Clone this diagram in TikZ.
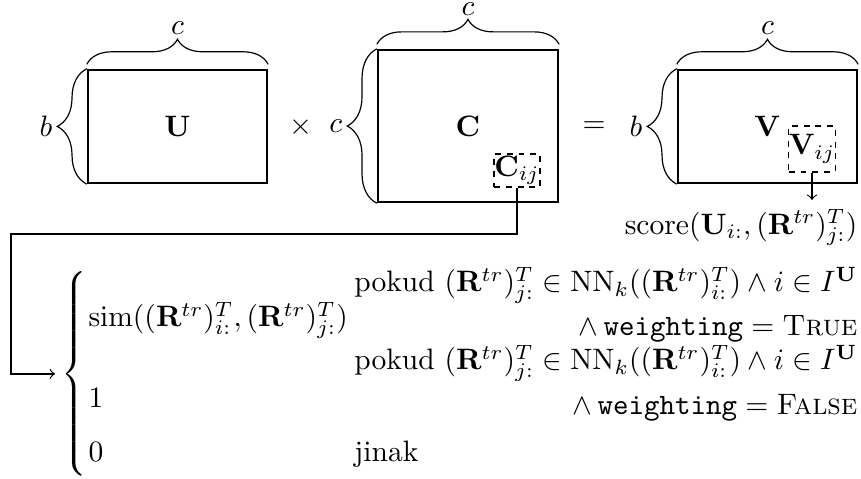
\documentclass[tikz,border=0pt]{standalone}
\usepackage{amsmath}
\usepackage{amssymb}
\usetikzlibrary{decorations.pathreplacing, positioning}

\tikzset{
  matbox/.style={draw, thick, inner sep=0pt},
  cellbox/.style={draw, dash pattern=on 2pt off 2pt, inner sep=0pt},
  topbrace/.style={decorate, decoration={brace, amplitude=8.5pt, raise=1.5pt}},
  sidebrace/.style={decorate, decoration={brace, amplitude=10pt}},
  dimlabel/.style={inner sep=1pt},
  rowtext/.style={inner sep=0pt},
}

\begin{document}
\begin{tikzpicture}
\useasboundingbox (0,0) rectangle (10.246,5.700);

% === Matrices ===
\node[matbox, minimum width=2.130cm, minimum height=1.345cm] (U) at (2.112,4.195) {$\mathbf{U}$};
\node[matbox, minimum width=2.142cm, minimum height=1.809cm] (C) at (5.569,4.200) {$\mathbf{C}$};
\node[matbox, minimum width=2.130cm, minimum height=1.345cm] (V) at (9.133,4.195) {$\mathbf{V}$};

% === Cells ===
\node[cellbox, minimum width=0.547cm, minimum height=0.393cm] (Cij) at (6.152,3.671) {$\mathbf{C}_{ij}$};
\node[cellbox, minimum width=0.547cm, minimum height=0.547cm] (Vij) at (9.663,3.927) {$\mathbf{V}_{ij}$};

% === Dimensions ===
\draw[topbrace] (U.north west) -- (U.north east) node[dimlabel, midway, above=10.5pt] {$c$};
\draw[sidebrace] (U.south west) -- (U.north west) node[dimlabel, midway, left=10.5pt] {$b$};
\draw[topbrace] (C.north west) -- (C.north east) node[dimlabel, midway, above=10pt] {$c$};
\draw[sidebrace] (C.south west) -- (C.north west) node[dimlabel, midway, left=10.5pt] {$c$};
\draw[topbrace] (V.north west) -- (V.north east) node[dimlabel, midway, above=10.5pt] {$c$};
\draw[sidebrace] (V.south west) -- (V.north west) node[dimlabel, midway, left=10.5pt] {$b$};

% === Operators ===
\node (times) at (3.582,4.189) {$\times$};
\node (equals) at (7.069,4.189) {$=$};

% === Score ===
\node[anchor=north east, inner xsep=0pt, inner ysep=3pt] (score) at (10.21,3.32)
     {$\mathrm{score}(\mathbf{U}_{i:}, (\mathbf{R}^{tr})^T_{j:})$};
\draw[->] (Vij.south) -- (Vij.south |- score.north);

% === Cases ===
\node[inner ysep=0pt, inner xsep=2pt, anchor=west, scale=0.965] (cases) at (0.655,1.250)
     {$\left\{\vrule height 39.75pt depth 34.75pt width 0pt\right.$};

\node[rowtext, anchor=base west] (simval) at (1.047,1.809)
     {$\mathrm{sim}((\mathbf{R}^{tr})^T_{i:}, (\mathbf{R}^{tr})^T_{j:})$};
\node[rowtext, anchor=base west] (oneval) at (1.047,0.845) {$1$};
\node[rowtext, anchor=base west] (zeroval) at (1.047,0.202) {$0$};

\node[rowtext, anchor=base east] (cond1) at (10.21,2.225)
     {pokud $(\mathbf{R}^{tr})^T_{j:} \in \mathrm{NN}_k((\mathbf{R}^{tr})^T_{i:}) \land i \in I^{\mathbf{U}}$};
\node[rowtext, anchor=base east] (flag1) at (10.21,1.702)
     {$\land\, \texttt{weighting} = \textsc{True}$};
\node[rowtext, anchor=base east] (cond2) at (10.21,1.297)
     {pokud $(\mathbf{R}^{tr})^T_{j:} \in \mathrm{NN}_k((\mathbf{R}^{tr})^T_{i:}) \land i \in I^{\mathbf{U}}$};
\node[rowtext, anchor=base east] (flag2) at (10.21,0.762)
     {$\land\, \texttt{weighting} = \textsc{False}$};
\node[rowtext, anchor=base west] (cond3) at (cond1.base west |- zeroval.base) {jinak};

% === Connector ===
\coordinate (bend) at (0.131,2.916);
\draw[->] (Cij.south) |- (bend) |- (cases.west);

\end{tikzpicture}
\end{document}
